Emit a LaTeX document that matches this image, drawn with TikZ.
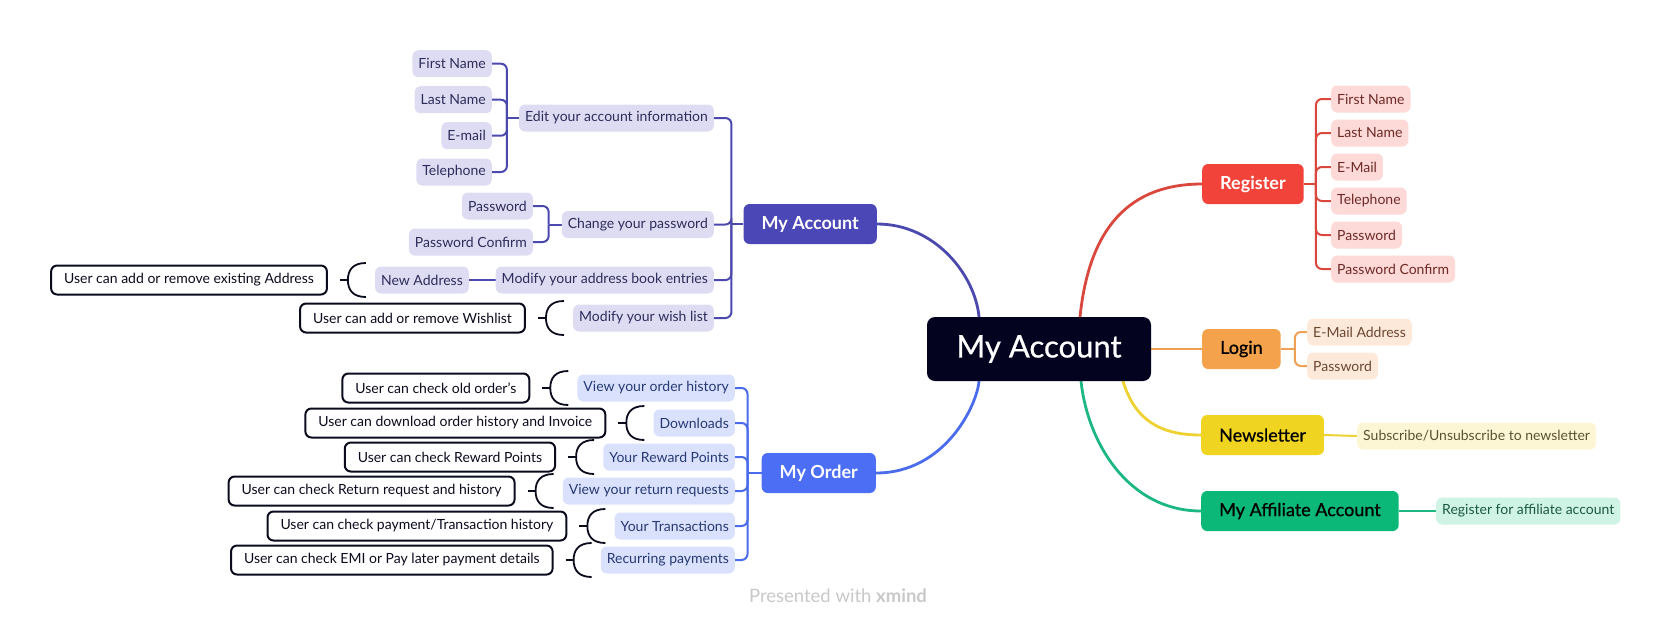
\documentclass[tikz,border=0pt]{standalone}
\usepackage{fontspec}
\setmainfont{Lato}
\newfontfamily\medfont{Lato}[FakeBold=0.7]
\usetikzlibrary{calc}
\pgfdeclarelayer{bg}\pgfsetlayers{bg,main}
\definecolor{cenc}{HTML}{03031F}
\definecolor{purp}{HTML}{4B47B6}
\definecolor{purpl}{HTML}{4B48AE}
\definecolor{lavf}{HTML}{DDDCF2}
\definecolor{lavt}{HTML}{2E2D5B}
\definecolor{blu}{HTML}{4C6EF5}
\definecolor{blul}{HTML}{4A6CEC}
\definecolor{bluf}{HTML}{D9E1FC}
\definecolor{blut}{HTML}{273A74}
\definecolor{redc}{HTML}{F2433A}
\definecolor{redl}{HTML}{D9473D}
\definecolor{redf}{HTML}{FDD9D7}
\definecolor{redt}{HTML}{6E2A26}
\definecolor{orac}{HTML}{F4A24C}
\definecolor{oral}{HTML}{EFA052}
\definecolor{oraf}{HTML}{FDE9DA}
\definecolor{orat}{HTML}{6B4630}
\definecolor{yelc}{HTML}{EFD422}
\definecolor{yell}{HTML}{EDD232}
\definecolor{yelf}{HTML}{FDF6D5}
\definecolor{yelt}{HTML}{5A5230}
\definecolor{grnc}{HTML}{0CB877}
\definecolor{grnl}{HTML}{1DB882}
\definecolor{grnf}{HTML}{CFF3E4}
\definecolor{grnt}{HTML}{1D5A43}
\definecolor{calloutc}{HTML}{0B0B1E}
\definecolor{footc}{HTML}{C8C8C8}
\begin{document}
\begin{tikzpicture}[x=1pt,y=-1pt,
  small/.style={font=\fontsize{14}{16}\selectfont, rounded corners=6pt, inner xsep=6pt, inner ysep=0pt, minimum height=27pt},
  lav/.style={small, fill=lavf, text=lavt},
  bluebox/.style={small, fill=bluf, text=blut},
  redbox/.style={small, fill=redf, text=redt},
  orabox/.style={small, fill=oraf, text=orat},
  yelbox/.style={small, fill=yelf, text=yelt},
  grnbox/.style={small, fill=grnf, text=grnt},
  callout/.style={font=\fontsize{14}{16}\selectfont, draw=calloutc, line width=2pt, fill=white, text=calloutc, rounded corners=6pt, inner xsep=13pt, inner ysep=0pt, minimum height=29pt},
  branch/.style={font=\medfont\fontsize{18}{20}\selectfont, rounded corners=6pt, inner xsep=18pt, inner ysep=0pt, minimum height=40pt},
  wbranch/.style={branch, text=white, font=\fontsize{18}{20}\selectfont\bfseries},
  mainline/.style={line width=2.8pt},
  subline/.style={line width=2pt, rounded corners=6pt},
  bline/.style={line width=1.8pt, calloutc}]
\useasboundingbox (0,0) rectangle (1677,627);

% central and branches
\node[fill=cenc, text=white, rounded corners=8pt, minimum width=224pt, minimum height=64pt, inner sep=0pt, font=\medfont\fontsize{31}{34}\selectfont] (cen) at (1039,349) {My Account};
\node[wbranch, fill=purp, anchor=east] (ma) at (877,224) {My Account};
\node[wbranch, fill=blu, anchor=east] (mo) at (876,473) {My Order};
\node[wbranch, fill=redc, anchor=west] (rg) at (1202,184) {Register};
\node[branch, fill=orac, text=black, anchor=west] (lg) at (1202,349) {Login};
\node[branch, fill=yelc, text=black, anchor=west] (nl) at (1201,435) {Newsletter};
\node[branch, fill=grnc, text=black, anchor=west] (af) at (1201,511) {My Affiliate Account};

% My Account children
\node[lav, anchor=east] (ed) at (714,118) {Edit your account information};
\node[lav, anchor=east] (cp) at (714,224.5) {Change your password};
\node[lav, anchor=east] (ab) at (714,280) {Modify your address book entries};
\node[lav, anchor=east] (wl) at (714,318) {Modify your wish list};
\node[lav, anchor=east] (fn) at (492,63.7) {First Name};
\node[lav, anchor=east] (ln) at (492,99.7) {Last Name};
\node[lav, anchor=east] (em) at (492,135.7) {E-mail};
\node[lav, anchor=east] (tp) at (492,172) {Telephone};
\node[lav, anchor=east] (pw) at (533,206) {Password};
\node[lav, anchor=east] (pc) at (533,242) {Password Confirm};
\node[lav, anchor=east] (na) at (469,280) {New Address};
\node[callout, anchor=east] (cna) at ($(na.west)+(-47,0)$) {User can add or remove existing Address};
\node[callout, anchor=east] (cwl) at ($(wl.west)+(-47,0)$) {User can add or remove Wishlist};

% My Order children
\node[bluebox, anchor=east] (o1) at (735,388) {View your order history};
\node[bluebox, anchor=east] (o2) at (735,423) {Downloads};
\node[bluebox, anchor=east] (o3) at (735,457) {Your Reward Points};
\node[bluebox, anchor=east] (o4) at (735,491) {View your return requests};
\node[bluebox, anchor=east] (o5) at (735,526) {Your Transactions};
\node[bluebox, anchor=east] (o6) at (735,560) {Recurring payments};
\node[callout, anchor=east] (c1) at ($(o1.west)+(-47,0)$) {User can check old order's};
\node[callout, anchor=east] (c2) at ($(o2.west)+(-47,0)$) {User can download order history and Invoice};
\node[callout, anchor=east] (c3) at ($(o3.west)+(-47,0)$) {User can check Reward Points};
\node[callout, anchor=east] (c4) at ($(o4.west)+(-47,0)$) {User can check Return request and history};
\node[callout, anchor=east] (c5) at ($(o5.west)+(-47,0)$) {User can check payment/Transaction history};
\node[callout, anchor=east] (c6) at ($(o6.west)+(-47,0)$) {User can check EMI or Pay later payment details};

% Right children
\node[redbox, anchor=west] (r1) at (1331,99) {First Name};
\node[redbox, anchor=west] (r2) at (1331,133) {Last Name};
\node[redbox, anchor=west] (r3) at (1331,167) {E-Mail};
\node[redbox, anchor=west] (r4) at (1331,201) {Telephone};
\node[redbox, anchor=west] (r5) at (1331,235) {Password};
\node[redbox, anchor=west] (r6) at (1331,269) {Password Confirm};
\node[orabox, anchor=west] (l1) at (1307,332) {E-Mail Address};
\node[orabox, anchor=west] (l2) at (1307,366) {Password};
\node[yelbox, anchor=west] (n1) at (1357,436) {Subscribe/Unsubscribe to newsletter};
\node[grnbox, anchor=west] (a1) at (1436,511) {Register for affiliate account};

\node[text=footc, font=\fontsize{18.5}{21}\selectfont, inner sep=0pt] (ft) at (838,596) {Presented with \textbf{xmind}};

\begin{pgfonlayer}{bg}
% main curves
\draw[mainline, redl] ($(cen.north)+(41,12)$) -- ($(cen.north)+(41,0)$) .. controls ($(cen.north)+(49,-77)$) and ($(rg.west)+(-82,0)$) .. (rg.west);
\draw[mainline, purpl] ($(cen.north)+(-60,12)$) -- ($(cen.north)+(-60,0)$) .. controls ($(cen.north)+(-64,-42)$) and ($(ma.east)+(58,0)$) .. (ma.east);
\draw[mainline, blul] ($(cen.south)+(-60,-12)$) -- ($(cen.south)+(-60,0)$) .. controls ($(cen.south)+(-62,24)$) and ($(mo.east)+(69,0)$) .. (mo.east);
\draw[mainline, grnl] ($(cen.south)+(42,-12)$) -- ($(cen.south)+(42,0)$) .. controls ($(cen.south)+(49,64)$) and ($(af.west)+(-71,0)$) .. (af.west);
\draw[mainline, yell] ($(cen.south)+(84,-12)$) -- ($(cen.south)+(84,0)$) .. controls ($(cen.south)+(96,39)$) and ($(nl.west)+(-41,0)$) .. (nl.west);
\draw[mainline, oral] (cen.east) -- (lg.west);

% My Account subtree
\draw[subline, purpl] (ma.west) -- ++(-12,0);
\foreach \c in {ed,cp,ab,wl} \draw[subline, purpl] ($(ma.west)+(-12,0)$) |- (\c.east);
\draw[subline, purpl] (ed.west) -- ++(-12,0);
\foreach \c in {fn,ln,em,tp} \draw[subline, purpl] ($(ed.west)+(-12,0)$) |- (\c.east);
\draw[subline, purpl] (cp.west) -- ++(-13,0);
\foreach \c in {pw,pc} \draw[subline, purpl] ($(cp.west)+(-13,0)$) |- (\c.east);
\draw[subline, purpl] (ab.west) -- (na.east);

% My Order subtree
\draw[subline, blul] (mo.west) -- ++(-14,0);
\foreach \c in {o1,o2,o3,o4,o5,o6} \draw[subline, blul] ($(mo.west)+(-14,0)$) |- (\c.east);

% Right subtrees
\draw[subline, redl] (rg.east) -- ++(12,0);
\foreach \c in {r1,r2,r3,r4,r5,r6} \draw[subline, redl] ($(rg.east)+(12,0)$) |- (\c.west);
\draw[subline, oral] (lg.east) -- ++(14,0);
\foreach \c in {l1,l2} \draw[subline, oral] ($(lg.east)+(14,0)$) |- (\c.west);
\draw[subline, yell] (nl.east) -- (n1.west);
\draw[subline, grnl] (af.east) -- (a1.west);
\end{pgfonlayer}

% callout braces
\foreach \ch/\co in {na/cna, wl/cwl, o1/c1, o2/c2, o3/c3, o4/c4, o5/c5, o6/c6} {
  \coordinate (m) at ($(\ch.west)+(-27,0)$);
  \draw[bline] ($(\co.east)+(12,0)$) -- (m);
  \draw[bline] ($(m)+(18,-17)$) .. controls ($(m)+(5,-17)$) and ($(m)+(0,-10)$) .. (m)
     .. controls ($(m)+(0,10)$) and ($(m)+(5,17)$) .. ($(m)+(18,17)$);
}
\end{tikzpicture}
\end{document}
